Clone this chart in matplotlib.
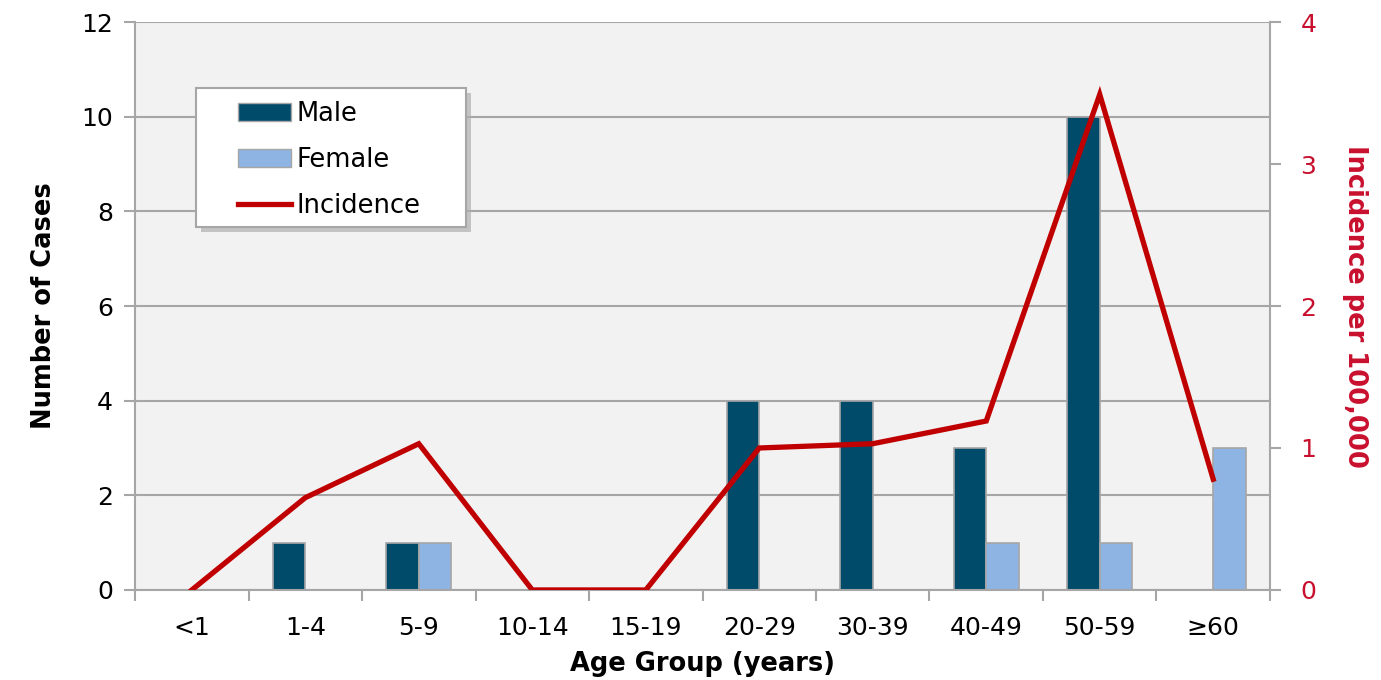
import numpy as np
import matplotlib.pyplot as plt
from matplotlib.patches import Patch, Rectangle
from matplotlib.lines import Line2D

# 연령대별 환자 수와 발생률
age_groups = ['<1', '1-4', '5-9', '10-14', '15-19', '20-29', '30-39', '40-49', '50-59', '≥60']
male = [0, 1, 1, 0, 0, 4, 4, 3, 10, 0]
female = [0, 0, 1, 0, 0, 0, 0, 1, 1, 3]
incidence = [0, 0.65, 1.03, 0, 0, 1.0, 1.03, 1.19, 3.49, 0.78]

plt.rcParams['font.family'] = ['DejaVu Sans']

grid_c = '#A6A6A6'
male_c = '#004A6A'
female_c = '#8EB4E3'
line_c = '#C00000'
red_txt = '#C8102E'
fs = 18

W, H = 1381, 680
fig = plt.figure(figsize=(W / 100, H / 100), dpi=100)
ax = fig.add_axes([0.0978, 0.1324, 0.8218, 0.8352])
ax.set_facecolor('#F2F2F2')

x = np.arange(len(age_groups))
w = 0.285
ax.bar(x - w / 2, male, w, color=male_c, edgecolor=grid_c, linewidth=1.2, zorder=2)
ax.bar(x + w / 2, female, w, color=female_c, edgecolor=grid_c, linewidth=1.2, zorder=2)

ax.set_xlim(-0.5, len(age_groups) - 0.5)
ax.set_ylim(0, 12)
ax.set_yticks(range(0, 13, 2))
ax.yaxis.grid(True, color=grid_c, linewidth=1.5, zorder=0)
ax.set_axisbelow(True)

# x 눈금은 구간 경계에, 레이블은 가운데에
ax.set_xticks(np.arange(-0.5, len(age_groups), 1))
ax.set_xticklabels([])
ax.set_xticks(x, minor=True)
ax.set_xticklabels(age_groups, minor=True, fontsize=fs)
ax.tick_params(axis='x', which='major', length=8, width=1.5, color=grid_c)
ax.tick_params(axis='x', which='minor', length=0, pad=19)
ax.tick_params(axis='y', length=8, width=1.5, color=grid_c, labelsize=fs, pad=8)

for s in ['top', 'right']:
    ax.spines[s].set_visible(False)
for s in ['left', 'bottom']:
    ax.spines[s].set_color(grid_c)
    ax.spines[s].set_linewidth(1.5)

ax.set_ylabel('Number of Cases', fontsize=18.5, fontweight='bold', labelpad=17)
ax.set_xlabel('Age Group (years)', fontsize=18.5, fontweight='bold', labelpad=8)

# 발생률 (오른쪽 축)
ax2 = ax.twinx()
ax2.plot(x, incidence, color=line_c, linewidth=3.8, solid_joinstyle='miter', zorder=3)
ax2.set_ylim(0, 4)
ax2.set_yticks(range(0, 5))
ax2.tick_params(axis='y', length=8, width=1.5, color=grid_c, labelsize=fs, labelcolor=red_txt, pad=14)
for s in ['top', 'left', 'bottom']:
    ax2.spines[s].set_visible(False)
ax2.spines['right'].set_color(grid_c)
ax2.spines['right'].set_linewidth(1.5)
ax2.set_ylabel('Incidence per 100,000', fontsize=18.5, fontweight='bold', color=red_txt,
               rotation=270, labelpad=37)

# 범례 상자 (그림자 포함)
bx, by, bw, bh = 196, 88, 270, 139
fig.patches.append(Rectangle(((bx + 5) / W, 1 - (by + bh + 5) / H), bw / W, bh / H,
                             transform=fig.transFigure, facecolor='#B0B0B0', edgecolor='none',
                             alpha=0.7, zorder=4))
fig.patches.append(Rectangle((bx / W, 1 - (by + bh) / H), bw / W, bh / H,
                             transform=fig.transFigure, facecolor='white', edgecolor=grid_c,
                             linewidth=1.5, zorder=5))

handles = [Patch(facecolor=male_c, edgecolor=grid_c, label='Male'),
           Patch(facecolor=female_c, edgecolor=grid_c, label='Female'),
           Line2D([0], [0], color=line_c, linewidth=3.8, label='Incidence')]
leg = fig.legend(handles=handles, loc='upper left', bbox_to_anchor=(238 / W, 1 - 101 / H),
                 fontsize=18.5, frameon=False, borderpad=0, labelspacing=0.77,
                 handlelength=2.05, handletextpad=0.22, borderaxespad=0)
leg.set_zorder(6)

plt.savefig('out.png', dpi=100)
